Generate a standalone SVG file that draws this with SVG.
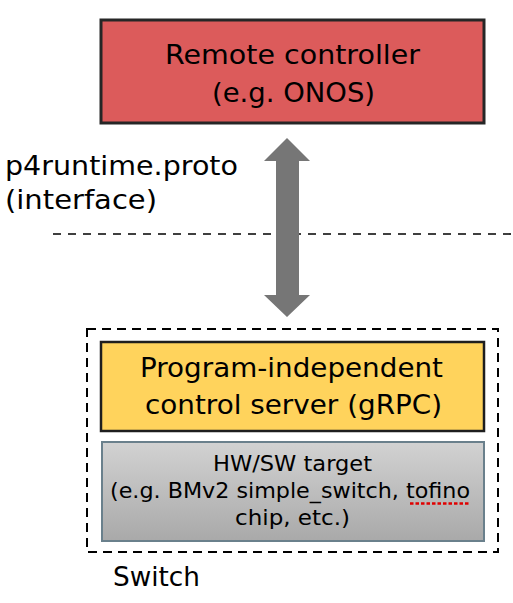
<svg xmlns="http://www.w3.org/2000/svg" width="513" height="603" viewBox="0 0 513 603">
<style>
text{font-family:"DejaVu Sans","Noto Sans",sans-serif;fill:#000}
.big{font-size:27px}
.mid{font-size:21px}
.dash{fill:none;stroke:#000;stroke-width:2;stroke-dasharray:9 6}
</style>
<defs>
<linearGradient id="gray" x1="0" y1="0" x2="0" y2="1">
<stop offset="0" stop-color="#d2d2d2"/>
<stop offset="1" stop-color="#a9a9a9"/>
</linearGradient>
</defs>
<rect width="513" height="603" fill="#fff"/>
<g id="remote-controller">
<rect x="101" y="20" width="383" height="103" fill="#dc5b5b" stroke="#262626" stroke-width="3"/>
<text class="big" x="165" y="64" textLength="255" lengthAdjust="spacingAndGlyphs">Remote controller</text>
<text class="big" x="212" y="102" textLength="163" lengthAdjust="spacingAndGlyphs">(e.g. ONOS)</text>
</g>
<g id="interface-label">
<text class="big" x="5" y="175" textLength="233" lengthAdjust="spacingAndGlyphs">p4runtime.proto</text>
<text class="big" x="5" y="209" textLength="152" lengthAdjust="spacingAndGlyphs">(interface)</text>
</g>
<line x1="53" y1="234" x2="513" y2="234" stroke="#000" stroke-width="1.6" stroke-dasharray="8 7"/>
<g id="connectors">
<polygon points="287,138 310,161 299,161 299,295 310,295 287,317 264,295 276,295 276,161 264,161" fill="#767676"/>
</g>
<g id="switch">
<rect class="dash" x="87" y="329" width="411" height="223"/>
<text class="big" x="113" y="586" textLength="87" lengthAdjust="spacingAndGlyphs">Switch</text>
</g>
<g id="control-server">
<rect x="101" y="342" width="383" height="89" fill="#ffd35c" stroke="#1e1e1e" stroke-width="2.5"/>
<text class="big" x="140" y="377" textLength="303" lengthAdjust="spacingAndGlyphs">Program-independent</text>
<text class="big" x="145" y="414" textLength="297" lengthAdjust="spacingAndGlyphs">control server (gRPC)</text>
</g>
<g id="target">
<rect x="102" y="442" width="382" height="99" fill="url(#gray)" stroke="#6a808c" stroke-width="2"/>
<text class="mid" x="213" y="471" textLength="159" lengthAdjust="spacingAndGlyphs">HW/SW target</text>
<text class="mid" x="110" y="498" textLength="360" lengthAdjust="spacingAndGlyphs">(e.g. BMv2 simple_switch, tofino</text>
<text class="mid" x="235" y="525" textLength="115" lengthAdjust="spacingAndGlyphs">chip, etc.)</text>
<line x1="410" y1="503.500" x2="470" y2="503.500" stroke="#e00000" stroke-width="2.5" stroke-dasharray="3.500 2"/>
</g>
</svg>
